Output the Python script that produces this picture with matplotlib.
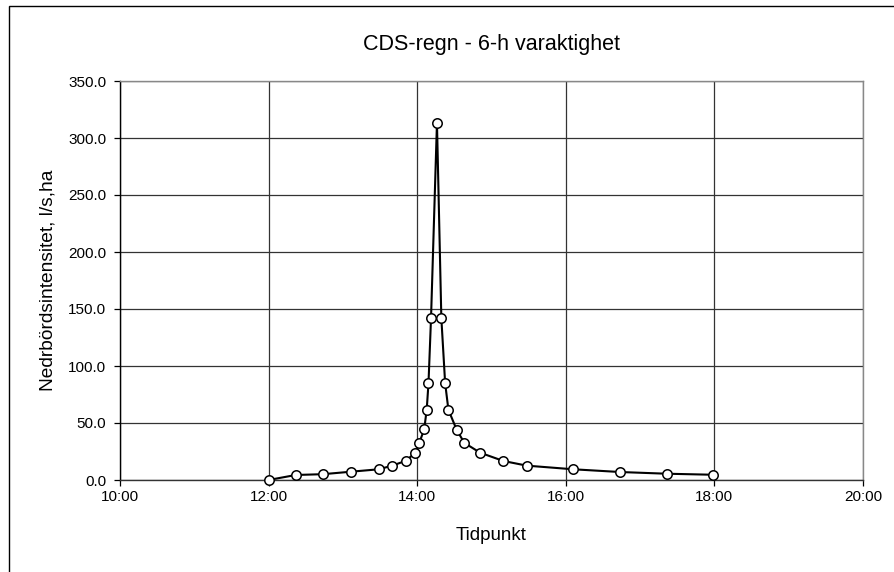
import matplotlib
matplotlib.use("Agg")
import matplotlib.pyplot as plt
from matplotlib.ticker import FixedLocator, FuncFormatter
from matplotlib.patches import Rectangle

# time of day in hours, intensity in l/s,ha
times = [12.000, 12.365, 12.732, 13.113, 13.482, 13.665, 13.845, 13.970, 14.028,
         14.094, 14.128, 14.152, 14.186, 14.266, 14.325, 14.376, 14.420, 14.530,
         14.634, 14.845, 15.159, 15.474, 16.100, 16.733, 17.362, 17.985]
intensity = [0.0, 4.4, 5.1, 7.3, 9.4, 12.6, 16.8, 23.6, 32.6,
             44.4, 61.6, 85.0, 141.8, 313.4, 141.8, 85.0, 61.6, 44.2,
             32.6, 24.0, 16.7, 12.6, 9.4, 7.0, 5.5, 4.6]

title = "CDS-regn - 6-h varaktighet"
xlabel = "Tidpunkt"
ylabel = "Nedrbördsintensitet, l/s,ha"
xticks = [10, 12, 14, 16, 18, 20]
yticks = [0, 50, 100, 150, 200, 250, 300, 350]

plt.rcParams['font.family'] = ['Liberation Sans', 'DejaVu Sans']

fig = plt.figure(figsize=(8.95, 5.72), dpi=100)
ax = fig.add_axes([120/895, 1-480/572, (863-120)/895, (480-81)/572])

# outer frame
fig.patches.append(Rectangle((9/895, -0.05), 1.1, 1-6/572+0.05, transform=fig.transFigure,
                             fill=False, edgecolor='black', linewidth=1.0))

ax.plot(times, intensity, color='black', linewidth=1.5, marker='o', markersize=6.8,
        markerfacecolor='white', markeredgecolor='black', markeredgewidth=1.1, zorder=3,
        clip_on=False)

ax.set_xlim(10, 20)
ax.set_ylim(0, 350)
ax.xaxis.set_major_locator(FixedLocator(xticks))
ax.yaxis.set_major_locator(FixedLocator(yticks))
ax.xaxis.set_major_formatter(FuncFormatter(lambda v, p: f"{int(round(v)):02d}:00"))
ax.yaxis.set_major_formatter(FuncFormatter(lambda v, p: f"{v:.1f}"))
ax.grid(True, color='#333333', linewidth=0.9)
ax.set_axisbelow(True)

for s in ['top', 'right']:
    ax.spines[s].set_color('#888888')
    ax.spines[s].set_linewidth(1.0)
ax.spines['left'].set_color('black')
ax.spines['bottom'].set_color('#333333')
ax.spines['left'].set_linewidth(1.0)
ax.spines['bottom'].set_linewidth(1.0)

ax.tick_params(axis='both', direction='out', length=4, width=0.9, color='black',
               labelsize=11, labelcolor='black', pad=3)
ax.tick_params(axis='y', pad=6)

ax.set_title(title, fontsize=15.5, pad=22)
ax.set_xlabel(xlabel, fontsize=13.5, labelpad=17)
ax.set_ylabel(ylabel, fontsize=13.8, labelpad=8)

fig.savefig("out.png", dpi=100)
